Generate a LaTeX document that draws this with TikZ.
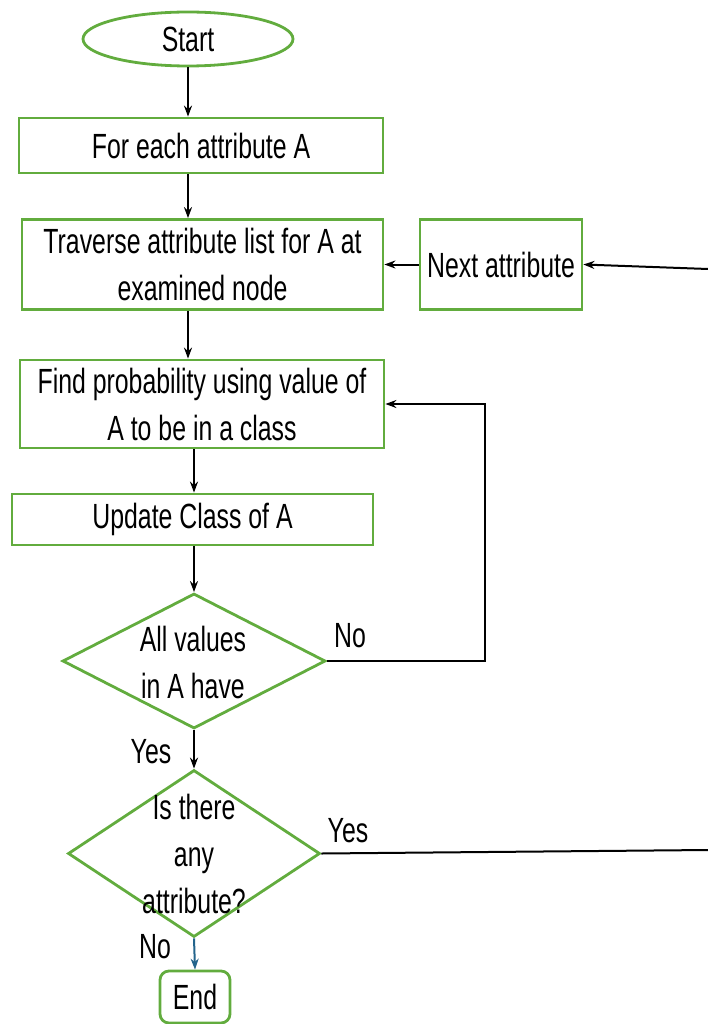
\documentclass[tikz,border=0pt]{standalone}
\usepackage{fontspec}
\setmainfont{Liberation Sans}[FakeStretch=0.71]
\usetikzlibrary{shapes.geometric,arrows.meta}
\definecolor{fgreen}{RGB}{98,172,62}
\definecolor{fblue}{RGB}{35,100,140}
\begin{document}
\begin{tikzpicture}[x=1pt,y=-1pt,
  font=\fontsize{35}{47}\selectfont,
  box/.style={draw=fgreen,line width=2.8pt,rectangle,inner sep=0pt,align=center,anchor=center},
  dia/.style={draw=fgreen,line width=2.8pt,diamond,inner sep=0pt,anchor=center},
  txt/.style={inner sep=0pt,align=center,anchor=center},
  arr/.style={line width=2pt,-{Stealth[length=11pt,width=8pt]}},
  ln/.style={line width=2pt}]
\useasboundingbox (0,0) rectangle (708,1024);
\node[box,ellipse,minimum width=210,minimum height=54] (start) at (188,39) {Start};
\node[box,minimum width=364,minimum height=55] (b1) at (201,145.5) {For each attribute A};
\node[box,minimum width=361,minimum height=90] (b2) at (202.5,264.5) {Traverse attribute list for A at\\examined node};
\node[box,minimum width=162,minimum height=90] (next) at (501,264.5) {Next attribute};
\node[box,minimum width=364,minimum height=88] (b3) at (202,404) {Find probability using value of\\A to be in a class};
\node[box,minimum width=361,minimum height=51] (b4) at (192.5,519.5) {Update Class of A};
\node[dia,minimum width=263,minimum height=135] (d1) at (194,661) {};
\node[txt] (d1t) at (193,662) {All values\\in A have};
\node[dia,minimum width=252,minimum height=167] (d2) at (194,853.5) {};
\node[txt] (d2t) at (194,854) {Is there\\any\\attribute?};
\node[box,rounded corners=9pt,minimum width=70,minimum height=52] (end) at (195,997) {End};
\coordinate (edge1) at (708,269);
\coordinate (edge2) at (708,850);
% connectors
\draw[arr] (start.south) -- (start.south |- b1.north);
\draw[arr] (start.south |- b1.south) -- (start.south |- b2.north);
\draw[arr] (start.south |- b2.south) -- (start.south |- b3.north);
\draw[arr] (d1.north |- b3.south) -- (d1.north |- b4.north);
\draw[arr] (d1.north |- b4.south) -- (d1.north);
\draw[arr] (d1.south) -- (d2.north);
\draw[arr,fblue] (d2.south) -- (end.north);
\draw[arr] (d1.east) -- ++(158,0) |- (b3.east);
\draw[arr] (edge1) -- (next.east);
\draw[arr] (next.west) -- (b2.east);
\draw[ln] (d2.east) -- (edge2);
% labels
\node[txt] (lno1) at (350,636) {No};
\node[txt] (lyes1) at (151,752) {Yes};
\node[txt] (lyes2) at (348,831) {Yes};
\node[txt] (lno2) at (155,947) {No};
\end{tikzpicture}
\end{document}
